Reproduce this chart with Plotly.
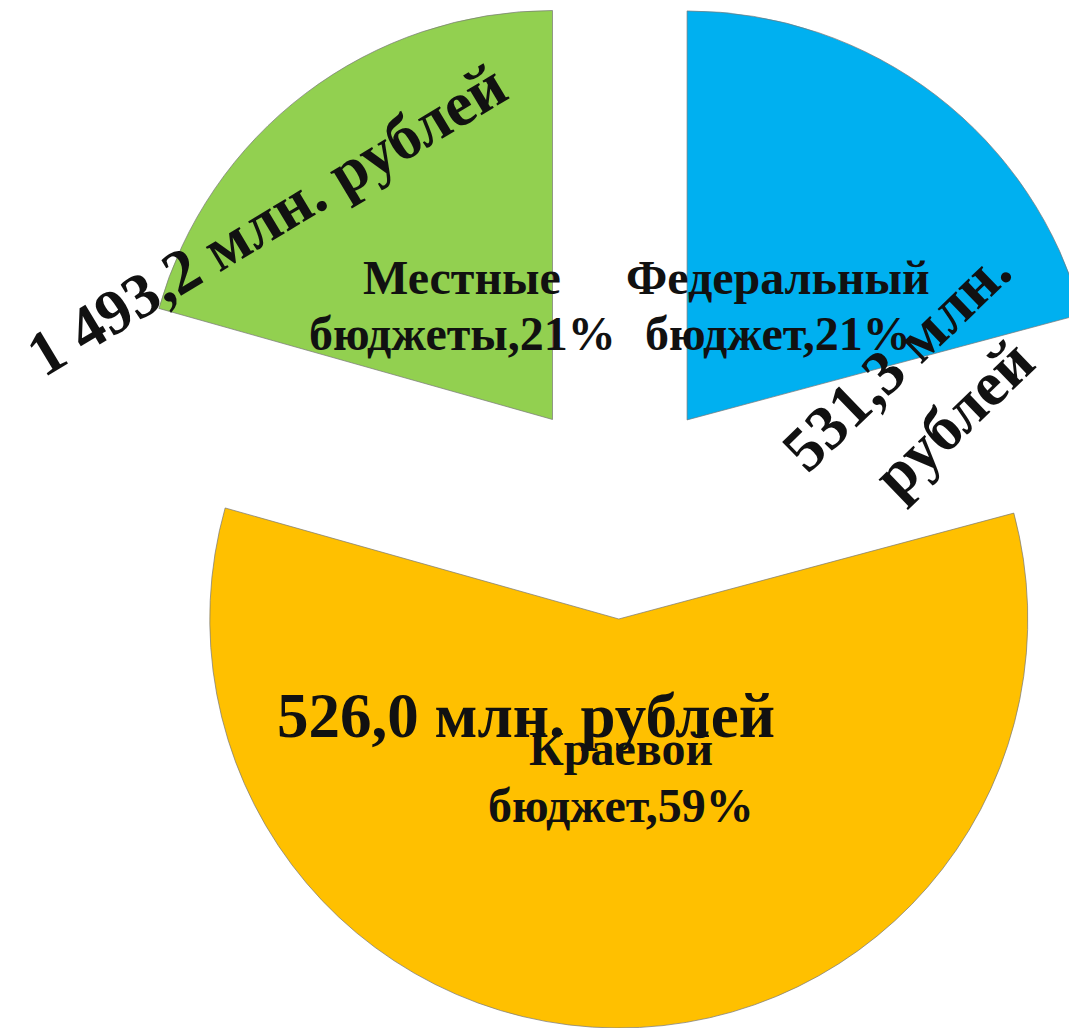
import plotly.graph_objects as go

# ---- data ----
slice_labels = ["Федеральный<br>бюджет", "Краевой<br>бюджет", "Местные<br>бюджеты"]
slice_values = [531.3, 1493.2, 526.0]
slice_colors = ["#00B0F0", "#FFC000", "#92D050"]
# amount labels as they appear on the chart (blue, yellow, green positions)
amount_values = [531.3, 526.0, 1493.2]
amount_suffix = [" млн.<br>рублей", " млн. рублей", " млн. рублей"]

# ---- geometry of the page ----
W, H = 1140, 1040
SHIFT = 12  # page is moved up by this many px via CSS


def px(x):
    return x / W


def py(y):
    return 1 - (y + SHIFT) / H


def fmt_amount(v):
    return f"{v:,.1f}".replace(",", " ").replace(".", ",")


total = sum(slice_values)
percents = [round(v / total * 100) for v in slice_values]

cx, half = 619.5, 520.0
fig = go.Figure(go.Pie(
    labels=slice_labels,
    values=slice_values,
    sort=False,
    direction="clockwise",
    rotation=0,
    pull=[0.2714, 0.2714, 0.2714],
    marker=dict(colors=slice_colors, line=dict(color="rgba(120,120,120,0.7)", width=1)),
    textinfo="none",
    hoverinfo="label+value+percent",
    showlegend=False,
    domain=dict(x=[(cx - half) / W, (cx + half) / W], y=[0, 1]),
))

font_label = dict(family="Liberation Serif", size=48, color="#111111", weight="bold")
font_big = dict(family="Liberation Serif", size=63, color="#111111", weight="bold")

annotations = []
# category labels (blue, yellow, green): centre x, first-line y, line step
label_pos = [(778, 277, 57), (621, 748, 57), (462, 277, 57)]
for lab, pct, (x, y0, step) in zip(slice_labels, percents, label_pos):
    lines = f"{lab},{pct}%".split("<br>")
    for i, line in enumerate(lines):
        annotations.append(dict(
            text=line, x=px(x), y=py(y0 + i * step), xref="paper", yref="paper",
            showarrow=False, font=font_label, align="center",
            xanchor="center", yanchor="middle"))

# amount labels (blue, yellow, green)
amount_pos = [(925, 389, -44), (526, 716, 0), (266, 220, -31)]
for v, suf, (x, y, ang) in zip(amount_values, amount_suffix, amount_pos):
    annotations.append(dict(
        text=fmt_amount(v) + suf, x=px(x), y=py(y), xref="paper", yref="paper",
        showarrow=False, font=font_big, align="center", textangle=ang,
        xanchor="center", yanchor="middle"))

fig.update_layout(
    width=W, height=H, autosize=False,
    margin=dict(l=0, r=0, t=0, b=0),
    paper_bgcolor="white", plot_bgcolor="white",
    annotations=annotations,
)

post = ("document.documentElement.style.overflow='hidden';"
        "document.body.style.overflow='hidden';"
        "document.body.style.margin='0';"
        f"document.body.style.marginTop='-{SHIFT}px';")
fig.write_html("out.html", post_script=post)
